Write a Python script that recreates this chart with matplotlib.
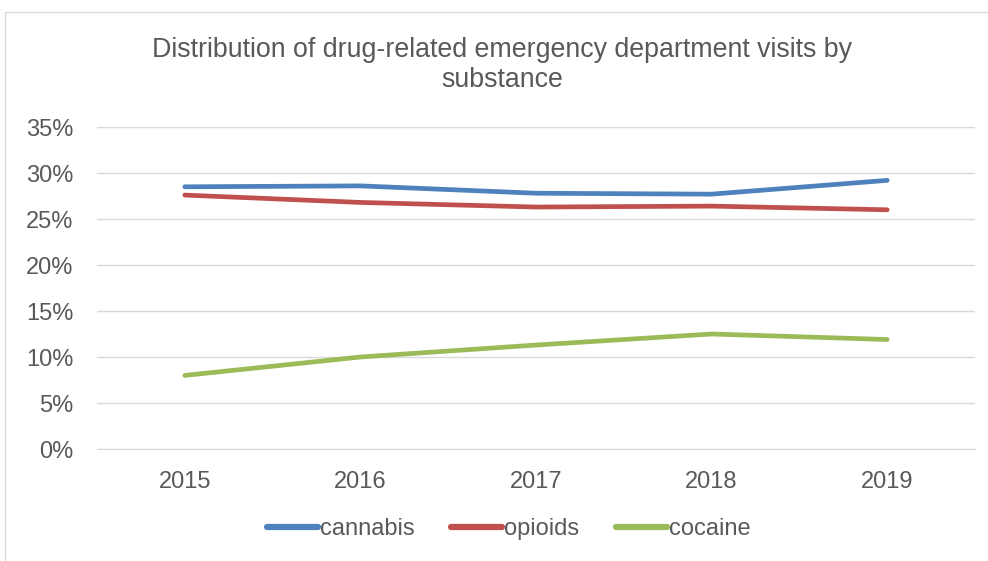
import matplotlib
matplotlib.use("Agg")
import matplotlib.pyplot as plt
from matplotlib.patches import Rectangle
from matplotlib.ticker import FuncFormatter

years = ["2015", "2016", "2017", "2018", "2019"]
cannabis = [28.5, 28.6, 27.8, 27.7, 29.2]
opioids = [27.6, 26.8, 26.3, 26.4, 26.0]
cocaine = [8.0, 10.0, 11.3, 12.5, 11.9]
series_names = ["cannabis", "opioids", "cocaine"]
colors = ["#4F81BD", "#C0504D", "#9BBB59"]
yticks = [0, 5, 10, 15, 20, 25, 30, 35]

plt.rcParams['font.family'] = ['Liberation Sans', 'DejaVu Sans']
text_color = "#595959"

W, H = 988, 561
fig = plt.figure(figsize=(W / 100, H / 100), dpi=100)
ax = fig.add_axes([97 / W, 1 - 449 / H, (975 - 97) / W, (449 - 127) / H])

# chart border
fig.patches.append(Rectangle((5 / W, -0.05), 1.2, 1 - 12 / H + 0.05, transform=fig.transFigure,
                             fill=False, edgecolor="#D9D9D9", linewidth=1.0))

x = list(range(len(years)))
for vals, name, c in zip([cannabis, opioids, cocaine], series_names, colors):
    ax.plot(x, vals, color=c, linewidth=3.4, solid_capstyle="round", solid_joinstyle="round", label=name)

ax.set_xlim(-0.5, len(years) - 0.5)
ax.set_ylim(0, 35)
ax.set_yticks(yticks)
ax.yaxis.set_major_formatter(FuncFormatter(lambda v, p: f"{int(v)}%"))
ax.set_xticks(x)
ax.set_xticklabels(years)
ax.grid(axis="y", color="#D9D9D9", linewidth=1.0)
ax.set_axisbelow(True)
for s in ["top", "right", "left"]:
    ax.spines[s].set_visible(False)
ax.spines["bottom"].set_color("#D9D9D9")
ax.tick_params(axis="both", length=0, labelsize=17, colors=text_color)
ax.tick_params(axis="y", pad=17)
ax.tick_params(axis="x", pad=15.5)

fig.text(0.508, 1 - 65 / H, "Distribution of drug-related emergency department visits by\nsubstance",
         ha="center", va="center", fontsize=19.3, color=text_color, linespacing=1.2)

leg = fig.legend(loc="center", bbox_to_anchor=(0.515, 1 - 529 / H), ncol=3, frameon=False,
                 fontsize=17, handlelength=2.15, handletextpad=0.1, columnspacing=1.55,
                 labelcolor=text_color)
for h in leg.legend_handles:
    h.set_linewidth(4.5)

fig.savefig("out.png", dpi=100)
